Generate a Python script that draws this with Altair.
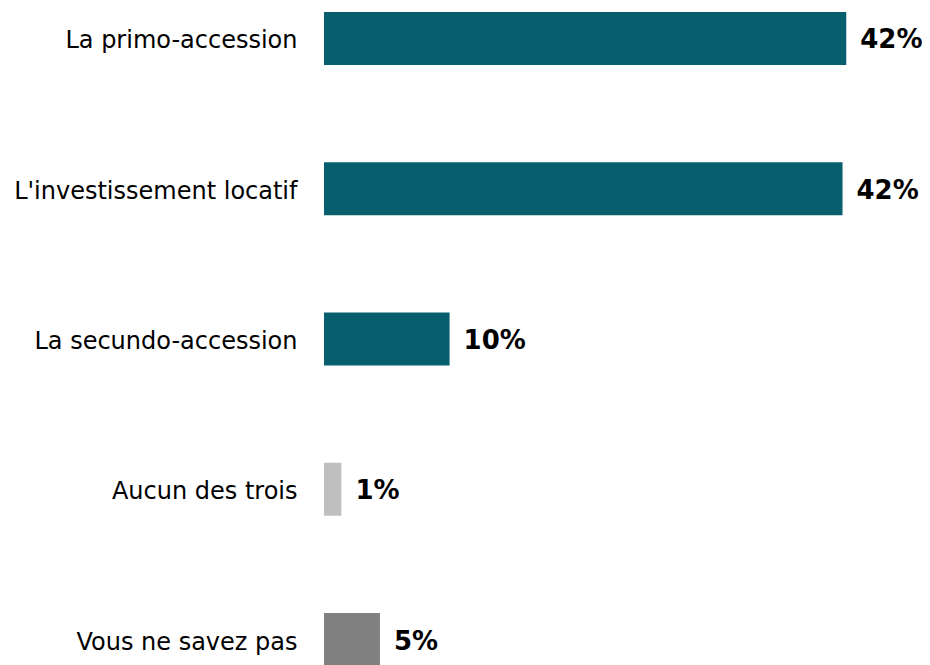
import altair as alt
import pandas as pd

categories = ["La primo-accession", "L'investissement locatif", "La secundo-accession",
              "Aucun des trois", "Vous ne savez pas"]
values = [42.0, 41.7, 10.1, 1.4, 4.5]
labels = ["42%", "42%", "10%", "1%", "5%"]
colors = ["#075F6E", "#075F6E", "#075F6E", "#BFBFBF", "#808080"]

df = pd.DataFrame({"cat": categories, "val": values, "lab": labels, "col": colors})

y = alt.Y("cat:N", sort=categories,
          scale=alt.Scale(paddingInner=0.6476, paddingOuter=0.0266),
          axis=alt.Axis(title=None, ticks=False, domain=False, labelFontSize=24,
                        labelFont="DejaVu Sans", labelColor="#000000", labelPadding=27,
                        labelLimit=400, labelOffset=3))
x = alt.X("val:Q", scale=alt.Scale(domain=[0, 46]), axis=None)

bars = alt.Chart(df).mark_bar().encode(x=x, y=y, color=alt.Color("col:N", scale=None))
text = alt.Chart(df).mark_text(align="left", baseline="middle", dx=14, dy=2, fontSize=26,
                               fontWeight="bold", font="DejaVu Sans", color="#000000").encode(
    x=x, y=y, text="lab:N")

chart = (bars + text).properties(
    width=572, height=662,
    padding={"left": 316, "top": 0, "right": 26, "bottom": 0},
    autosize=alt.AutoSizeParams(type="none"),
).configure_view(stroke=None)

chart.save("out.html", embed_options={"renderer": "svg", "actions": False})
